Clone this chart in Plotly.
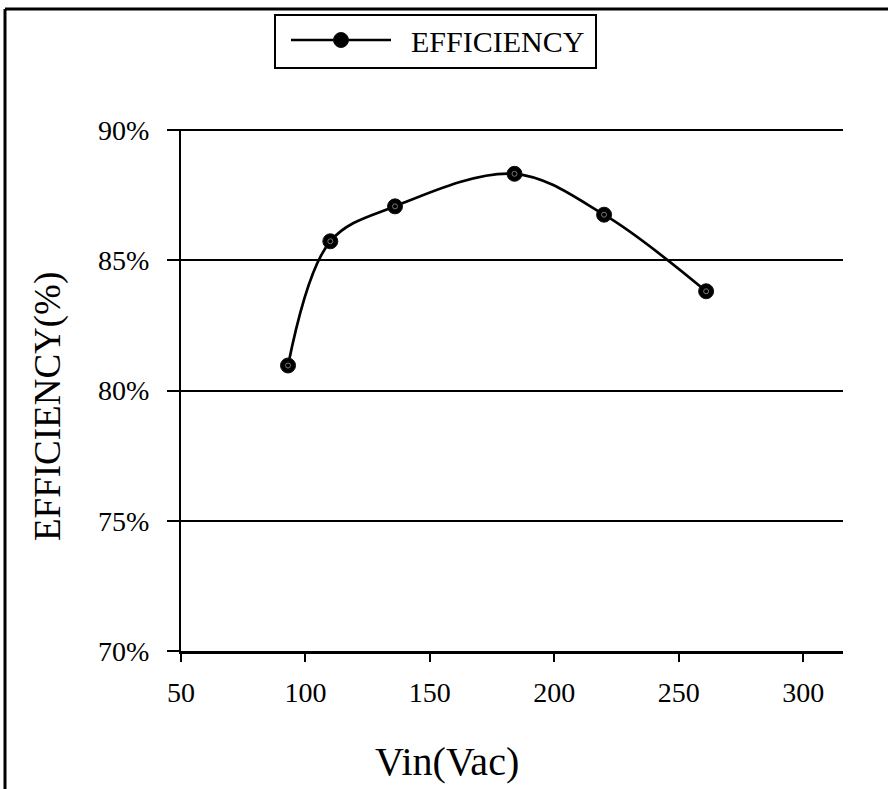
import plotly.graph_objects as go

# Data
vin = [93, 110, 136, 184, 220, 261]
efficiency = [0.8096, 0.8573, 0.8707, 0.8832, 0.8675, 0.8381]
x_ticks = [50, 100, 150, 200, 250, 300]
y_ticks = [0.70, 0.75, 0.80, 0.85, 0.90]

FONT = "Liberation Serif"

# plot area in pixels (for paper-coordinate conversions of decorations)
L, R, T, B = 181, 843, 129, 651
W, H = R - L, B - T


def px(x):
    return (x - L) / W


def py(y):
    return (B - y) / H


fig = go.Figure()
fig.add_trace(go.Scatter(
    x=vin, y=efficiency, mode="lines+markers", name="\u00a0\u00a0EFFICIENCY",
    line=dict(color="black", width=2.7, shape="spline", smoothing=1.0),
    marker=dict(symbol="circle", size=15, color="black",
                line=dict(color="#111", width=1)),
    cliponaxis=False,
))
fig.add_trace(go.Scatter(
    x=vin, y=efficiency, mode="markers", showlegend=False, hoverinfo="skip",
    marker=dict(symbol="circle-open", size=5, color="#777", line=dict(width=1)),
    cliponaxis=False,
))

fig.update_layout(
    width=888, height=789,
    margin=dict(l=L, r=888 - R, t=T, b=789 - B, pad=0),
    paper_bgcolor="white", plot_bgcolor="white",
    font=dict(family=FONT, color="black"),
    showlegend=True,
    legend=dict(
        x=px(286), y=py(14), xanchor="left", yanchor="top",
        borderwidth=0, bgcolor="rgba(0,0,0,0)",
        font=dict(family=FONT, size=30, color="black"),
        itemwidth=100,
    ),
    xaxis=dict(
        range=[50, 316], tickvals=x_ticks, ticktext=[str(v) for v in x_ticks],
        showgrid=False, zeroline=False,
        showline=True, linecolor="black", linewidth=3,
        ticks="outside", ticklen=8, tickwidth=2, tickcolor="black",
        tickfont=dict(family=FONT, size=28, color="black"),
        ticklabelstandoff=6,
    ),
    yaxis=dict(
        range=[0.70, 0.9004], tickvals=y_ticks, tickformat=".0%",
        showgrid=True, gridcolor="black", gridwidth=2, zeroline=False,
        showline=True, linecolor="black", linewidth=2,
        ticks="outside", ticklen=12, tickwidth=2, tickcolor="black",
        tickfont=dict(family=FONT, size=28, color="black"),
        ticklabelstandoff=12,
    ),
    annotations=[
        dict(text="Vin(Vac)", x=px(447), y=py(761), xref="paper", yref="paper",
             showarrow=False, xanchor="center", yanchor="middle",
             font=dict(family=FONT, size=40, color="black")),
        dict(text="EFFICIENCY(%)", x=px(48), y=py(407), xref="paper", yref="paper",
             showarrow=False, xanchor="center", yanchor="middle", textangle=-90,
             font=dict(family=FONT, size=37, color="black")),
    ],
    shapes=[
        # outer frame (left and top edges)
        dict(type="line", xref="paper", yref="paper",
             x0=px(5), x1=px(5), y0=py(9), y1=py(800),
             line=dict(color="black", width=3)),
        dict(type="line", xref="paper", yref="paper",
             x0=px(5), x1=px(900), y0=py(9), y1=py(9),
             line=dict(color="black", width=3)),
        # legend box
        dict(type="rect", xref="paper", yref="paper",
             x0=px(275), x1=px(596), y0=py(68), y1=py(15),
             line=dict(color="black", width=2)),
    ],
)

fig.write_html("out.html", config={"displayModeBar": False},
               post_script="document.body.style.margin='0';")
